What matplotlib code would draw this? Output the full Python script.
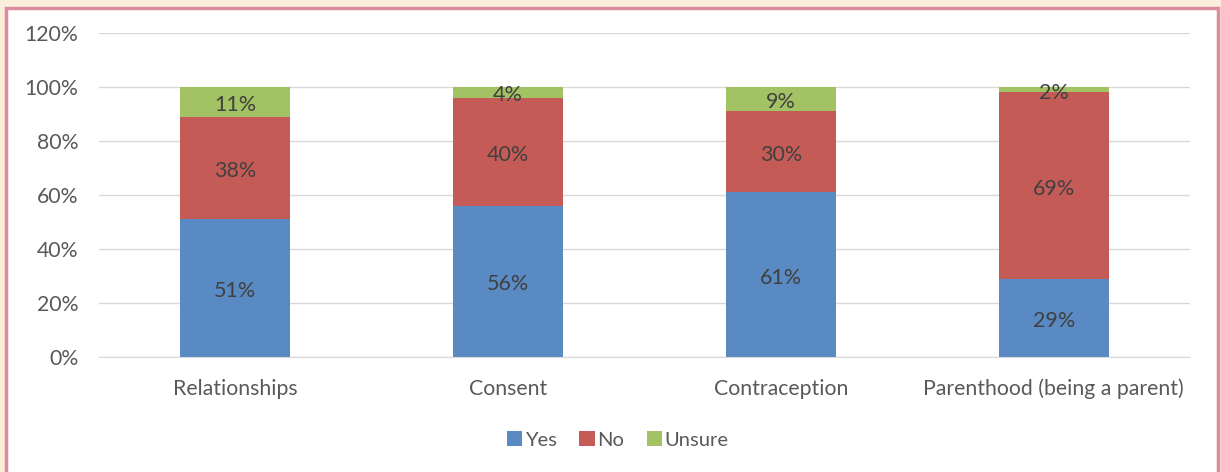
import matplotlib
matplotlib.use("Agg")
import matplotlib.pyplot as plt
from matplotlib.patches import Rectangle
import matplotlib.transforms as mtransforms
import numpy as np

categories = ["Relationships", "Consent", "Contraception", "Parenthood (being a parent)"]
yes = [51, 56, 61, 29]
no = [38, 40, 30, 69]
unsure = [11, 4, 9, 2]
series_names = ["Yes", "No", "Unsure"]
colors = ["#598AC3", "#C55B57", "#A3C263"]

plt.rcParams['font.family'] = ['Lato', 'DejaVu Sans']

W, H = 1221, 472
fig = plt.figure(figsize=(W/100, H/100), dpi=100)
fig.patch.set_facecolor("#FBEEDB")
bg = Rectangle((6/W, -0.05), (1212)/W, 1.05 - 8/H, transform=fig.transFigure,
               facecolor="white", edgecolor="#DC8C9E", linewidth=2.5, zorder=-10)
fig.patches.append(bg)

ax = fig.add_axes([99/W, 1-357/H, (1190-99)/W, (357-33)/H])
ax.set_zorder(5)
ax.set_facecolor("none")
x = np.arange(len(categories))
width = 0.403
bottom = np.zeros(len(categories))
txt = "#404040"
shift = mtransforms.offset_copy(ax.transData, fig=fig, x=0, y=-3, units="dots")
for vals, name, c in zip([yes, no, unsure], series_names, colors):
    v = np.array(vals, dtype=float)
    ax.bar(x, v, width, bottom=bottom, color=c, label=name, zorder=2)
    for xi, b, vi in zip(x, bottom, v):
        ax.text(xi, b + vi/2, f"{int(vi)}%", ha="center", va="center",
                fontsize=15.5, color=txt, zorder=3, transform=shift)
    bottom += v

ax.set_xlim(-0.5, 3.5)
ax.set_ylim(0, 120)
ax.set_yticks(range(0, 121, 20))
ax.set_yticklabels([f"{t}%" for t in range(0, 121, 20)])
ax.set_xticks(x)
ax.set_xticklabels(categories)
ax.grid(axis="y", color="#D9D9D9", linewidth=1, zorder=0)
ax.set_axisbelow(True)
for s in ["top", "right", "left"]:
    ax.spines[s].set_visible(False)
ax.spines["bottom"].set_color("#D9D9D9")
ax.tick_params(axis="both", length=0, labelsize=15.3, colors="#595959")
ax.tick_params(axis="y", pad=15)
ax.tick_params(axis="x", pad=15.5)

handles, labels = ax.get_legend_handles_labels()
leg = fig.legend(handles, labels, loc="center", bbox_to_anchor=(618/W, 1-440/H), ncol=3,
                 frameon=False, fontsize=14.5, handlelength=0.75, handleheight=0.75,
                 handletextpad=0.15, columnspacing=1.1, labelcolor="#595959")
leg.set_zorder(6)

fig.savefig("out.png", dpi=100, facecolor=fig.get_facecolor())
